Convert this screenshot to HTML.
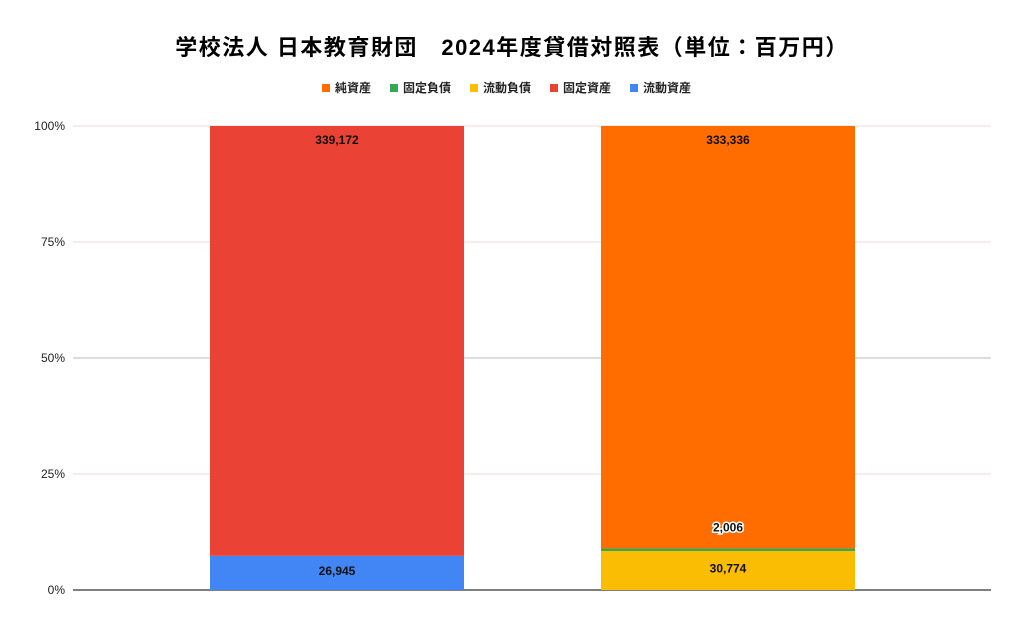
<!DOCTYPE html>
<html><head><meta charset="utf-8">
<style>
body{margin:0;background:#fff;width:1024px;height:630px;overflow:hidden;font-family:"Liberation Sans","Noto Sans CJK JP",sans-serif;}
svg text{font-family:"Liberation Sans","Noto Sans CJK JP",sans-serif;}
</style></head>
<body>
<svg id="chart" width="1024" height="630" xmlns="http://www.w3.org/2000/svg">
<text x="512" y="55" text-anchor="middle" font-size="22" letter-spacing="1.5" font-weight="bold" fill="#000">学校法人 日本教育財団　2024年度貸借対照表（単位：百万円）</text>
<g id="legend"></g>
<g id="grid"></g>
<g id="bars"></g>
<g id="labels"></g>
</svg>
<script>
const NS='http://www.w3.org/2000/svg';
const categories=['資産','負債・純資産'];
const seriesNames=['流動資産','固定資産','流動負債','固定負債','純資産'];
const seriesColors=['#4285f4','#ea4335','#fbbc04','#34a853','#ff6d01'];
const assetValues=[26945,339172,0,0,0];
const liabValues=[0,0,30774,2006,333336];
const tickLabels=['0%','25%','50%','75%','100%'];
const tickValues=[0,0.25,0.5,0.75,1];
const legendOrder=[4,3,2,1,0];

const X0=73,X1=991,Y0=590,Y1=126;
const yScale=f=>Y0-f*(Y0-Y1);
const bandStart=141.5, bandW=391;
const barW=254;
const xCenter=i=>bandStart+bandW*(i+0.5);
function mk(tag,attrs,parent){const e=document.createElementNS(NS,tag);for(const k in attrs)e.setAttribute(k,attrs[k]);parent.appendChild(e);return e;}

const grid=document.getElementById('grid');
tickValues.forEach((t,i)=>{
  const y=yScale(t);
  const major=(t===0);
  const l=mk('line',{x1:X0,x2:X1,y1:y,y2:y,stroke:major?'#555':(t===0.5?'#bbb':'#ecd8d8'),'stroke-width':major?1.5:1},grid);
  
  
  const tx=mk('text',{x:X0-8,y:y+4,'text-anchor':'end','font-size':12,fill:'#222'},grid);
  tx.textContent=tickLabels[i];
  
  
});

const lg=document.getElementById('legend');
let lx=322;
legendOrder.forEach(si=>{
  const r=mk('rect',{x:lx,y:84,width:8,height:8,fill:seriesColors[si]},lg);
  
  
  const t=mk('text',{x:lx+13,y:92,'font-size':12,'font-weight':'bold',fill:'#222'},lg);
  t.textContent=seriesNames[si];
  
  
  lx+=13+seriesNames[si].length*12+19;
});

const bars=document.getElementById('bars'), labels=document.getElementById('labels');
[assetValues,liabValues].forEach((vals,ci)=>{
  const total=vals.reduce((a,b)=>a+b,0);
  let cum=0;
  const cx=xCenter(ci);
  vals.forEach((v,si)=>{
    if(!v)return;
    const yTop=yScale((cum+v)/total), yBot=yScale(cum/total);
    const r=mk('rect',{x:cx-barW/2,y:yTop,width:barW,height:Math.max(yBot-yTop,0.5),fill:seriesColors[si]},bars);
    
    
    const h=yBot-yTop;
    let ly;
    if(h>100) ly=yTop+18;
    else if(h<10) ly=yTop-17;
    else ly=(yTop+yBot)/2+2;
    const t=mk('text',{x:cx,y:ly,'text-anchor':'middle','font-size':12,'font-weight':'bold',fill:'#111'},labels);
    if(h<10){t.setAttribute('stroke','#fff');t.setAttribute('stroke-width','3');t.setAttribute('paint-order','stroke');}
    t.textContent=v.toLocaleString('en-US');
    
    
    cum+=v;
  });
});
</script>
</body></html>
